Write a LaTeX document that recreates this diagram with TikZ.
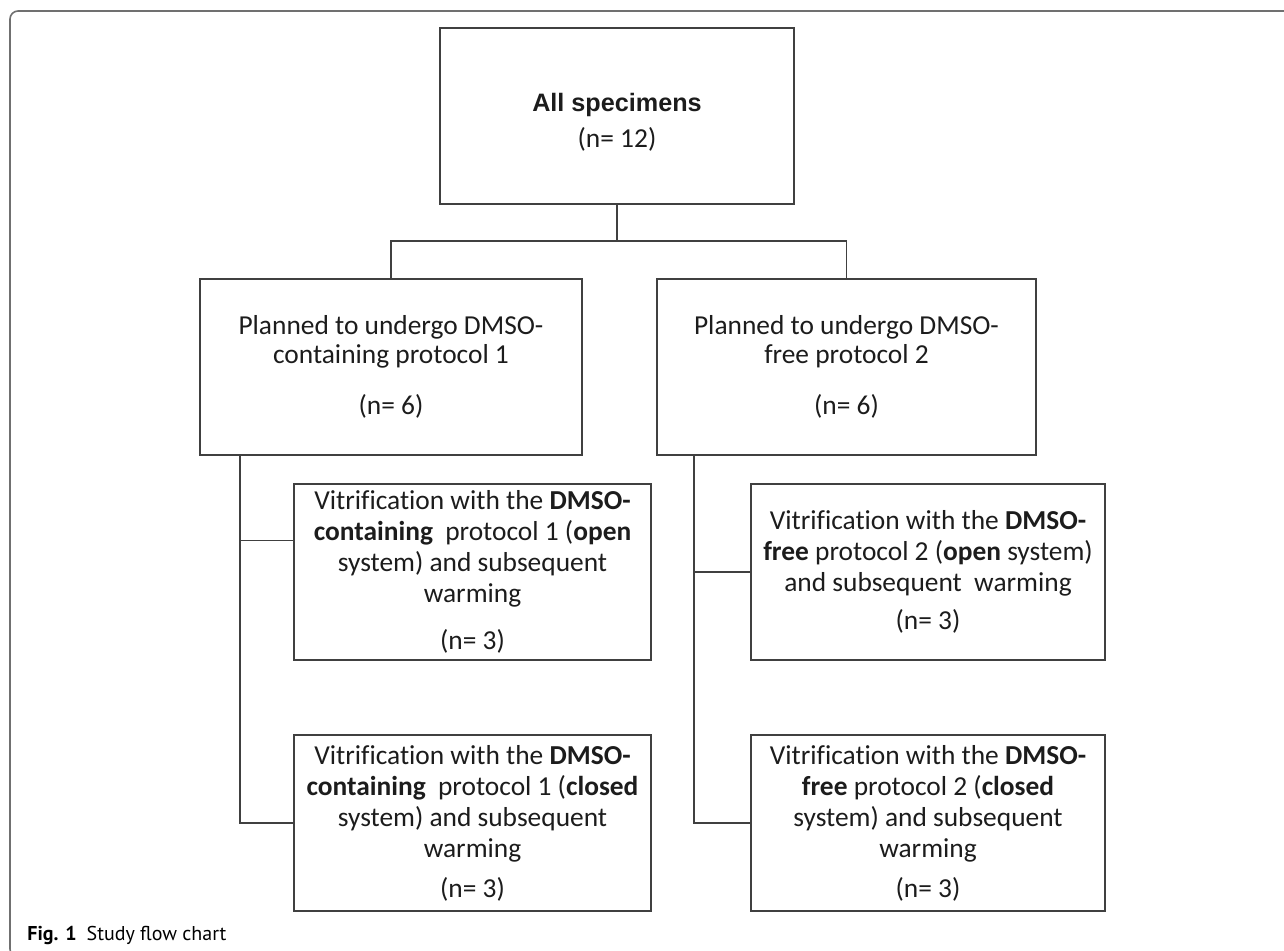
\documentclass[tikz,border=0pt]{standalone}
\usepackage{fontspec}
\setmainfont[Ligatures=NoCommon]{Carlito}
\newfontfamily\headfont{Liberation Sans}
\newfontfamily\capfont{PT Sans}
\usetikzlibrary{positioning,calc}
\definecolor{framegray}{RGB}{112,112,112}
\definecolor{boxgray}{RGB}{64,64,64}
\definecolor{textgray}{RGB}{28,28,28}

\begin{document}
\begin{tikzpicture}[x=0.5pt,y=-0.5pt,
    box/.style={draw=boxgray, line width=0.75pt, minimum height=88pt, inner sep=0pt,
      align=center, text=textgray, font=\fontsize{13.7}{15.5}\selectfont},
    wire/.style={boxgray, line width=0.75pt}]
  \useasboundingbox (0,0) rectangle (1284,951);
  \draw[framegray, line width=0.8pt, rounded corners=4pt] (1300,11) -- (10,11) -- (10,957) -- (60,957);

  \node(all) at (617,116) [box, minimum width=177pt] {\rule{0pt}{15pt}{\headfont\bfseries\fontsize{12.6}{15}\selectfont All specimens}\\[2.5pt](n= 12)};

  \node(plan1) at (391,367) [box, minimum width=191pt, font=\fontsize{13.7}{14.5}\selectfont] {Planned to undergo DMSO-\\containing protocol 1\\[11pt](n= 6)};
  \node(plan2) at (846.5,367) [box, minimum width=189.5pt, font=\fontsize{13.7}{14.5}\selectfont] {Planned to undergo DMSO-\\free protocol 2\\[11pt](n= 6)};

  \node(open1) at (472.5,572) [box, minimum width=178.5pt] {Vitrification with the \textbf{DMSO-}\\\textbf{containing}~ protocol 1 (\textbf{open}\\system) and subsequent\\warming\\[8pt](n= 3)};
  \node(open2) at (928,572) [box, minimum width=177pt] {Vitrification with the \textbf{DMSO-}\\\textbf{free} protocol 2 (\textbf{open} system)\\and subsequent~ warming\\[3.5pt](n= 3)};

  \node(closed1) at (472.5,823) [box, minimum width=178.5pt] {Vitrification with the \textbf{DMSO-}\\\textbf{containing}~ protocol 1 (\textbf{closed}\\system) and subsequent\\warming\\[4.5pt](n= 3)};
  \node(closed2) at (928,823) [box, minimum width=177pt] {Vitrification with the \textbf{DMSO-}\\\textbf{free} protocol 2 (\textbf{closed}\\system) and subsequent\\warming\\[4.5pt](n= 3)};

  \coordinate(fork) at (617,241);
  \coordinate(spineL) at (240,455);
  \coordinate(spineR) at (694,455);

  \draw[wire] (all.south) -- (fork);
  \draw[wire] (plan1.north) |- (fork) -| (plan2.north);
  \draw[wire] (spineL) |- (closed1.west);
  \draw[wire] (spineL |- open1.170) -- (open1.170);
  \draw[wire] (spineR) |- (closed2.west);
  \draw[wire] (spineR |- open2.west) -- (open2.west);

  \node(cap) at (27,940) [anchor=base west, inner sep=0pt, font=\capfont\fontsize{10}{12}\selectfont] {\textbf{Fig. 1}\hspace{5pt}Study flow chart};
\end{tikzpicture}
\end{document}
